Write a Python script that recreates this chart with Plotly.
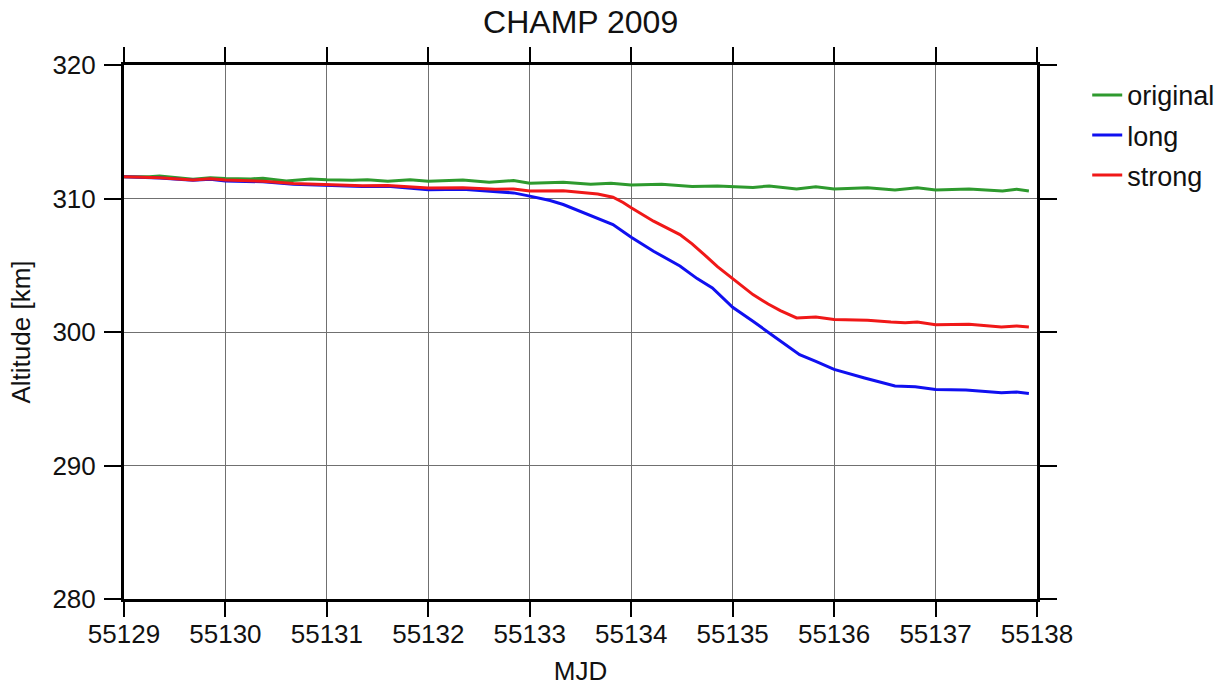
import plotly.graph_objects as go

# CHAMP orbit altitude, MJD 55129-55138 (2009)
mjd_original = [55129.0, 55129.25, 55129.35, 55129.5, 55129.68, 55129.85, 55130.0, 55130.25,
                55130.37, 55130.6, 55130.84, 55131.0, 55131.25, 55131.4, 55131.6, 55131.82,
                55132.0, 55132.34, 55132.6, 55132.84, 55133.0, 55133.33, 55133.6, 55133.8,
                55134.0, 55134.3, 55134.6, 55134.85, 55135.0, 55135.2, 55135.36, 55135.63,
                55135.82, 55136.0, 55136.33, 55136.6, 55136.82, 55137.0, 55137.33, 55137.66,
                55137.8, 55137.92]
alt_original = [311.63, 311.62, 311.68, 311.58, 311.45, 311.56, 311.50, 311.47,
                311.52, 311.32, 311.46, 311.40, 311.36, 311.40, 311.30, 311.40,
                311.30, 311.39, 311.21, 311.34, 311.15, 311.22, 311.07, 311.14,
                311.02, 311.06, 310.90, 310.93, 310.87, 310.83, 310.94, 310.72,
                310.88, 310.72, 310.80, 310.64, 310.80, 310.64, 310.71, 310.56,
                310.70, 310.57]

mjd_long = [55129.0, 55129.35, 55129.68, 55129.85, 55130.0, 55130.37, 55130.67, 55131.0,
            55131.35, 55131.6, 55131.82, 55132.0, 55132.34, 55132.66, 55132.84, 55133.0,
            55133.2, 55133.33, 55133.56, 55133.82, 55134.0, 55134.22, 55134.48, 55134.65,
            55134.8, 55135.0, 55135.2, 55135.35, 55135.47, 55135.66, 55135.82, 55136.0,
            55136.3, 55136.6, 55136.8, 55137.0, 55137.3, 55137.65, 55137.8, 55137.92]
alt_long = [311.62, 311.54, 311.36, 311.45, 311.32, 311.25, 311.07, 310.98,
            310.90, 310.92, 310.80, 310.66, 310.70, 310.52, 310.42, 310.18,
            309.85, 309.55, 308.85, 308.05, 307.10, 306.05, 304.95, 304.00,
            303.30, 301.85, 300.80, 300.00, 299.30, 298.30, 297.80, 297.20,
            296.55, 295.95, 295.90, 295.70, 295.65, 295.45, 295.50, 295.40]

mjd_strong = [55129.0, 55129.35, 55129.68, 55129.85, 55130.0, 55130.37, 55130.67, 55131.0,
              55131.35, 55131.6, 55131.82, 55132.0, 55132.34, 55132.66, 55132.84, 55133.0,
              55133.33, 55133.5, 55133.67, 55133.82, 55133.92, 55134.0, 55134.1, 55134.22,
              55134.48, 55134.6, 55134.72, 55134.85, 55135.0, 55135.2, 55135.35, 55135.47,
              55135.63, 55135.82, 55136.0, 55136.33, 55136.56, 55136.7, 55136.82, 55137.0,
              55137.33, 55137.65, 55137.8, 55137.92]
alt_strong = [311.63, 311.56, 311.39, 311.48, 311.38, 311.30, 311.13, 311.06,
              310.96, 310.98, 310.88, 310.78, 310.80, 310.70, 310.72, 310.56,
              310.58, 310.45, 310.33, 310.10, 309.70, 309.30, 308.85, 308.30,
              307.30, 306.60, 305.80, 304.90, 304.00, 302.80, 302.10, 301.60,
              301.05, 301.13, 300.93, 300.88, 300.75, 300.70, 300.75, 300.55,
              300.58, 300.38, 300.45, 300.38]

x_ticks = [55129, 55130, 55131, 55132, 55133, 55134, 55135, 55136, 55137, 55138]
y_ticks = [280, 290, 300, 310, 320]

FONT = "Liberation Sans, Arial, Helvetica, sans-serif"

fig = go.Figure()
series = [
    ("original", mjd_original, alt_original, "#2e9a2e"),
    ("long", mjd_long, alt_long, "#1010f0"),
    ("strong", mjd_strong, alt_strong, "#f01818"),
]
for name, xs, ys, color in series:
    fig.add_trace(go.Scatter(x=xs, y=ys, mode="lines", name=name, legendgroup=name,
                             line=dict(color=color, width=3)))

axis_common = dict(
    showline=True, linecolor="black", linewidth=3, mirror="allticks",
    ticks="outside", tickwidth=1.5, tickcolor="black",
    showgrid=True, gridcolor="#707070", gridwidth=1.2,
    zeroline=False, tickfont=dict(size=26, color="#111"),
)

fig.update_xaxes(range=[55129, 55138], tickvals=x_ticks,
                 ticktext=[str(v) for v in x_ticks],
                 ticklen=15, ticklabelstandoff=-5, automargin=True,
                 title=dict(text="MJD", font=dict(size=26, color="#111"), standoff=20),
                 **axis_common)
fig.update_yaxes(range=[280, 320], tickvals=y_ticks,
                 ticktext=[str(v) for v in y_ticks],
                 ticklen=17, ticklabelstandoff=3, automargin=False,
                 title=dict(text="Altitude [km]", font=dict(size=26, color="#111"), standoff=15),
                 **axis_common)

fig.update_layout(
    width=1225, height=686,
    margin=dict(l=124, r=188, t=65, b=87, autoexpand=False),
    paper_bgcolor="white", plot_bgcolor="white",
    font=dict(family=FONT, color="#111"),
    title=dict(text="CHAMP 2009", x=0.474, xanchor="center", y=0.968, yanchor="middle",
               font=dict(size=32, color="#111")),
    legend=dict(x=1.055, y=0.989, xanchor="left", yanchor="top",
                font=dict(size=27, color="#111"), bgcolor="rgba(0,0,0,0)",
                traceorder="grouped", tracegroupgap=2),
    showlegend=True,
)

fig.write_html("out.html")
